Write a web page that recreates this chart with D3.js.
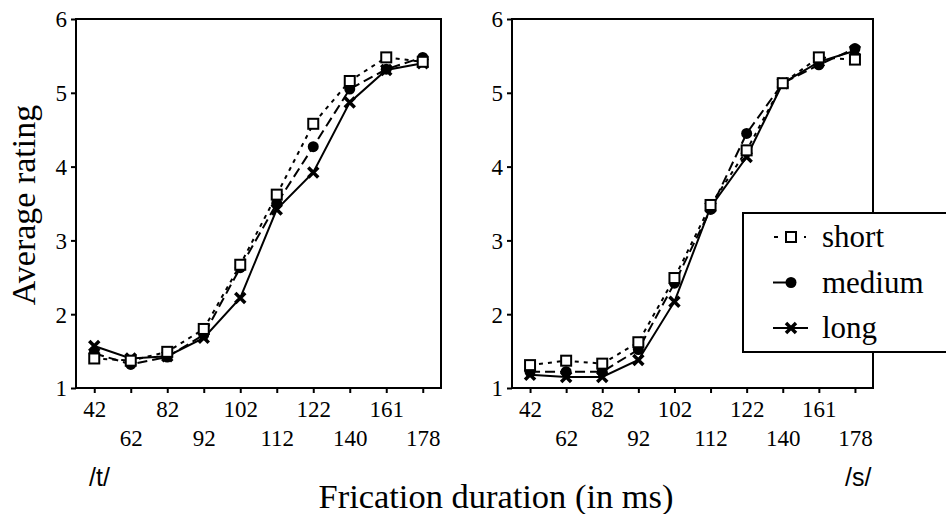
<!DOCTYPE html>
<html>
<head>
<meta charset="utf-8">
<script src="https://cdn.jsdelivr.net/npm/d3@7"></script>
<style>
  body { margin: 0; background: #fff; }
  svg { display: block; }
</style>
</head>
<body>
<svg width="946" height="514"></svg>
<script>
// durations (ms) shown on the x axis, same for both panels
const durations = ["42", "62", "82", "92", "102", "112", "122", "140", "161", "178"];
const yTicks = [1, 2, 3, 4, 5, 6];
const seriesNames = ["short", "medium", "long"];

// /t/ panel
const tShort  = [1.40, 1.37, 1.49, 1.80, 2.67, 3.62, 4.58, 5.16, 5.48, 5.42];
const tMedium = [1.47, 1.32, 1.42, 1.72, 2.63, 3.50, 4.27, 5.05, 5.32, 5.48];
const tLong   = [1.57, 1.40, 1.43, 1.68, 2.22, 3.42, 3.92, 4.87, 5.31, 5.40];

// /s/ panel
const sShort  = [1.31, 1.37, 1.33, 1.62, 2.49, 3.48, 4.22, 5.13, 5.48, 5.45];
const sMedium = [1.22, 1.22, 1.22, 1.52, 2.42, 3.42, 4.45, 5.13, 5.38, 5.60];
const sLong   = [1.18, 1.15, 1.15, 1.38, 2.17, 3.45, 4.13, 5.13, 5.42, 5.57];

const svg = d3.select("svg");
const serif = "'Liberation Serif', 'Times New Roman', serif";
const sans = "'Liberation Sans', Arial, sans-serif";

const dashFor = {short: "4,5", medium: "10,5", long: null};

const y = d3.scaleLinear().domain([1, 6]).range([388, 19]);

function drawMarker(g, name, cx, cy) {
  if (name === "short") {
    g.append("rect")
      .attr("x", cx - 5).attr("y", cy - 5)
      .attr("width", 10).attr("height", 10)
      .attr("fill", "#fff").attr("stroke", "#000").attr("stroke-width", 2);
  } else if (name === "medium") {
    g.append("circle")
      .attr("cx", cx).attr("cy", cy).attr("r", 5.5)
      .attr("fill", "#000");
  } else {
    g.append("path")
      .attr("d", `M${cx-5},${cy-5}L${cx+5},${cy+5}M${cx-5},${cy+5}L${cx+5},${cy-5}`)
      .attr("stroke", "#000").attr("stroke-width", 3.5);
  }
}

function panel(left, right, series) {
  const x = d3.scalePoint().domain(durations).range([left, right]).padding(0.5);
  const g = svg.append("g");

  // frame
  g.append("rect")
    .attr("x", left).attr("y", y(6))
    .attr("width", right - left).attr("height", y(1) - y(6))
    .attr("fill", "none").attr("stroke", "#000").attr("stroke-width", 2);

  // y axis
  const ya = g.append("g")
    .attr("transform", `translate(${left},0)`)
    .call(d3.axisLeft(y).tickValues(yTicks).tickSize(5).tickPadding(4).tickFormat(d3.format("d")));
  ya.select(".domain").remove();
  ya.selectAll("line").attr("stroke-width", 2);
  ya.selectAll("text")
    .style("font-family", serif).style("font-size", "23px").attr("dy", "0.34em");

  // x axis, labels staggered in two rows
  const xa = g.append("g")
    .attr("transform", `translate(0,${y(1)})`)
    .call(d3.axisBottom(x).tickSize(5).tickPadding(8));
  xa.select(".domain").remove();
  xa.selectAll("line").attr("stroke-width", 2);
  xa.selectAll(".tick text")
    .style("font-family", serif).style("font-size", "23px")
    .attr("dy", (d, i) => i % 2 ? "1.95em" : "0.68em");

  const line = d3.line().x((d, i) => x(durations[i])).y(d => y(d));

  // draw long first so the dashed lines sit on top
  ["long", "medium", "short"].forEach(name => {
    g.append("path")
      .datum(series[name])
      .attr("d", line)
      .attr("fill", "none")
      .attr("stroke", "#000")
      .attr("stroke-width", 2)
      .attr("stroke-dasharray", dashFor[name]);
  });
  ["long", "medium", "short"].forEach(name => {
    series[name].forEach((v, i) => drawMarker(g, name, x(durations[i]), y(v)));
  });
  return g;
}

panel(76, 441, {short: tShort, medium: tMedium, long: tLong});
panel(512, 873, {short: sShort, medium: sMedium, long: sLong});

// legend box, cut off by the page edge on the right
const lg = svg.append("g");
lg.append("rect")
  .attr("x", 743).attr("y", 213)
  .attr("width", 240).attr("height", 139)
  .attr("fill", "#fff").attr("stroke", "#000").attr("stroke-width", 2);

const legendY = d3.scalePoint().domain(seriesNames).range([237, 328]);
const legendLine = {short: [774, 806], medium: [773, 791], long: [773, 808]};
seriesNames.forEach(name => {
  const cy = legendY(name);
  lg.append("line")
    .attr("x1", legendLine[name][0]).attr("x2", legendLine[name][1])
    .attr("y1", cy).attr("y2", cy)
    .attr("stroke", "#000").attr("stroke-width", 2)
    .attr("stroke-dasharray", name === "short" ? "4,26,2" : null);
  drawMarker(lg, name, 791, cy);
  lg.append("text")
    .attr("x", 822).attr("y", cy + 10)
    .style("font-family", serif).style("font-size", "31px")
    .text(name);
});

// axis titles
svg.append("text")
  .attr("transform", "translate(35,205) rotate(-90)")
  .attr("text-anchor", "middle")
  .style("font-family", serif).style("font-size", "34px")
  .text("Average rating");

svg.append("text")
  .attr("x", 496).attr("y", 508)
  .attr("text-anchor", "middle")
  .attr("textLength", 355).attr("lengthAdjust", "spacingAndGlyphs")
  .style("font-family", serif).style("font-size", "33px")
  .text("Frication duration (in ms)");

svg.append("text")
  .attr("x", 89).attr("y", 486)
  .style("font-family", sans).style("font-size", "25px")
  .text("/t/");
svg.append("text")
  .attr("x", 845).attr("y", 486)
  .style("font-family", sans).style("font-size", "25px")
  .text("/s/");
</script>
</body>
</html>
